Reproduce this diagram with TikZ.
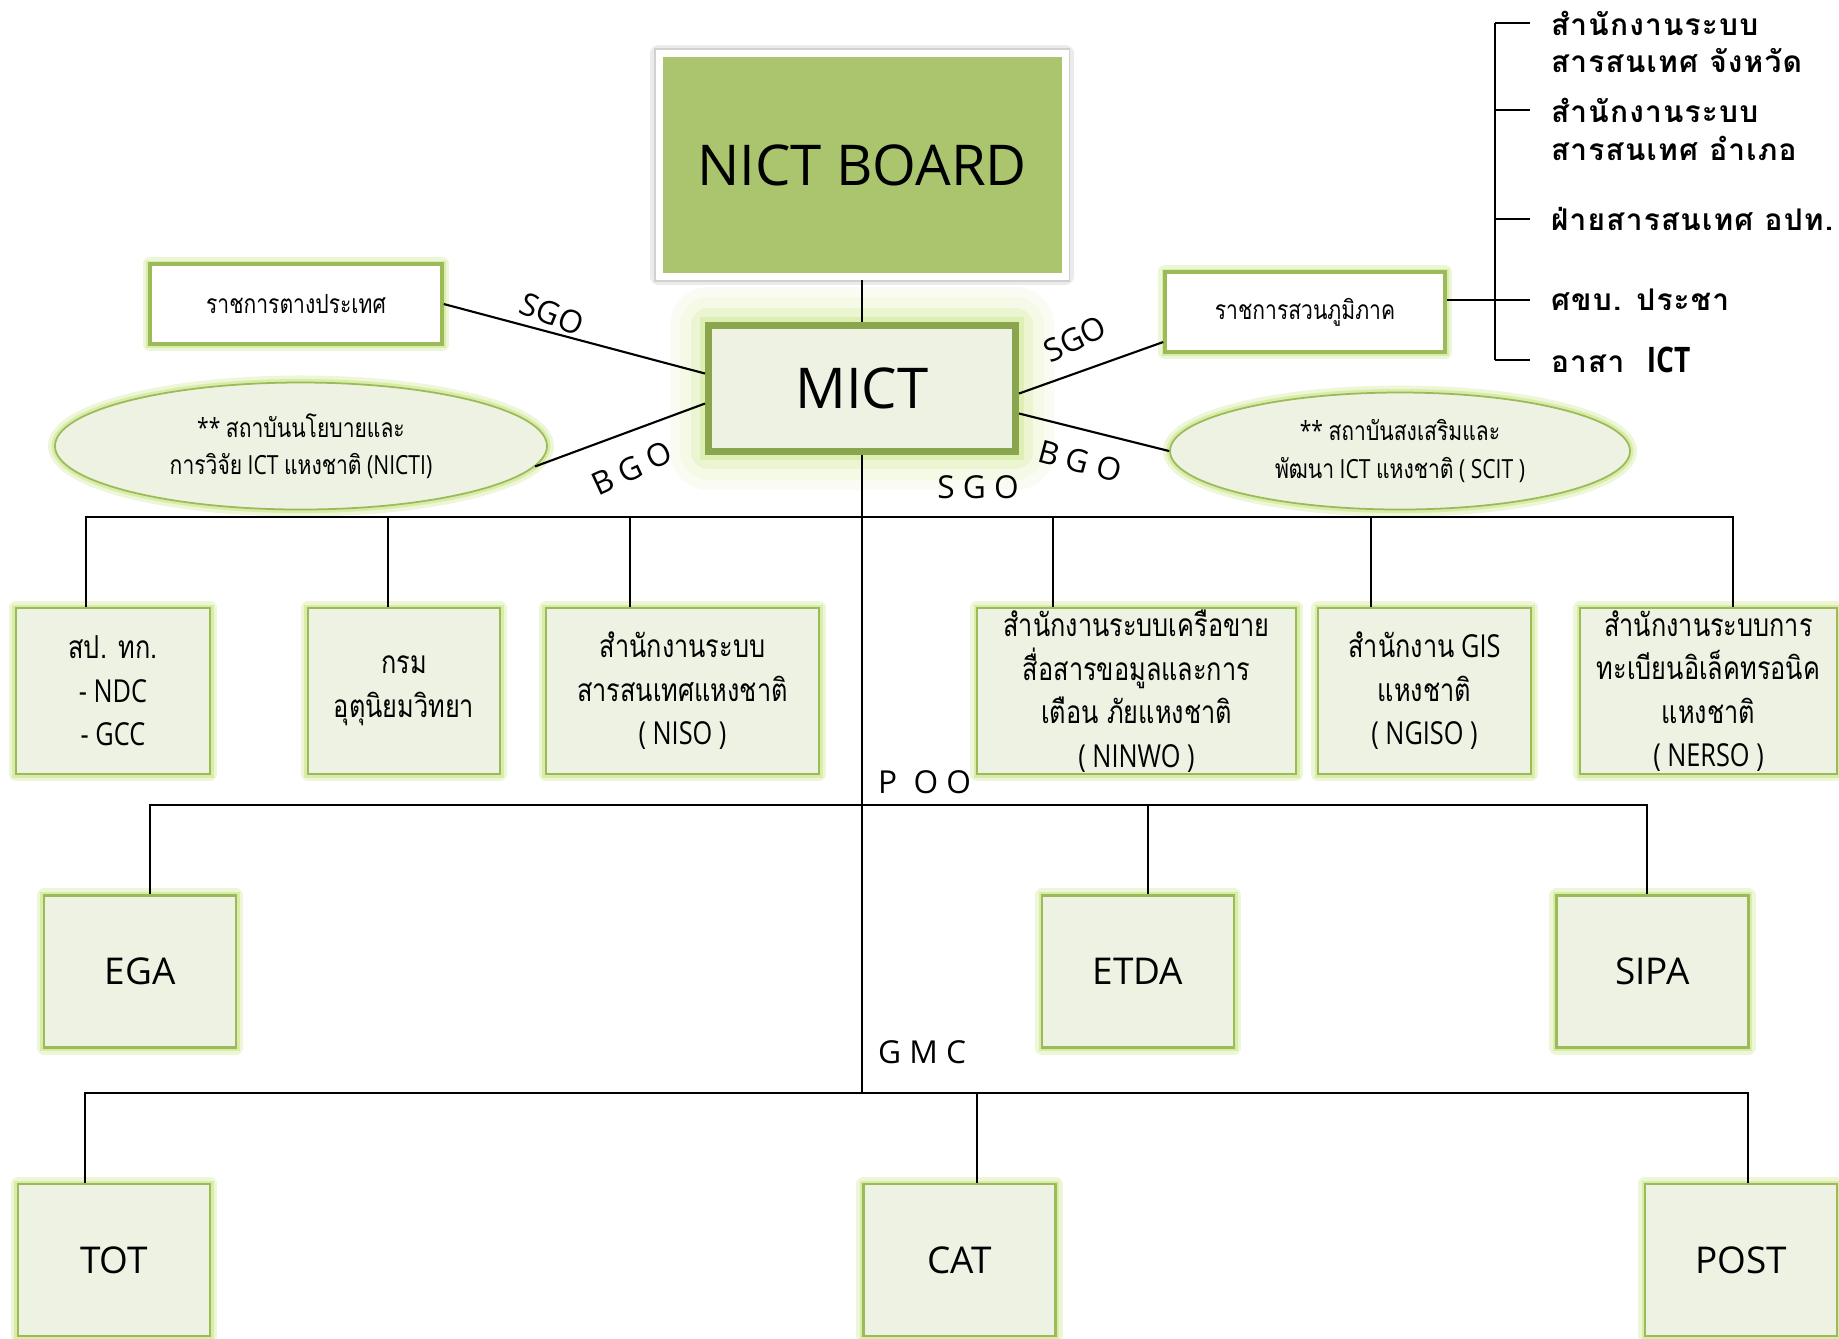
\documentclass[tikz,border=0pt]{standalone}
\usepackage{fontspec}
\setmainfont{Open Sans}
\newfontfamily\narrowsf[FakeStretch=0.8]{Open Sans}
\newfontfamily\thnarrow[Script=Thai,FakeStretch=0.8]{Loma}
\newfontfamily\thspaced[Script=Thai,LetterSpace=4]{Loma}
\usetikzlibrary{shapes.geometric, positioning}
\definecolor{boxfill}{RGB}{238,242,227}
\definecolor{boxedge}{RGB}{155,187,89}
\definecolor{mictedge}{RGB}{137,165,78}
\definecolor{boardfill}{RGB}{171,196,110}
\definecolor{glowc}{RGB}{205,230,140}
\tikzstyle{glow} = [preaction={draw=glowc!35!white, line width=4pt, line join=round}, preaction={draw=glowc!75!white, line width=2pt}]
\tikzstyle{bigglow} = [preaction={draw=glowc!10!white, line width=22pt, line join=round}, preaction={draw=glowc!22!white, line width=16pt, line join=round}, preaction={draw=glowc!40!white, line width=10pt, line join=round}, preaction={draw=glowc!65!white, line width=5pt}]
\tikzstyle{board} = [rectangle, fill=boardfill, draw=white, line width=0.07cm, minimum width=4.06cm, minimum height=2.23cm, preaction={draw=black!8, line width=0.07cm+3pt, line join=round}, preaction={draw=black!18, line width=0.07cm+1pt}, font=\fontsize{16}{19}\selectfont]
\tikzstyle{mict} = [rectangle, fill=boxfill, draw=mictedge, line width=0.07cm, minimum width=3.07cm, minimum height=1.26cm, bigglow, font=\fontsize{16}{19}\selectfont]
\tikzstyle{office} = [rectangle, fill=boxfill, draw=boxedge, line width=0.6pt, glow, align=center, inner sep=0pt, minimum height=1.66cm, font=\narrowsf\fontsize{9}{12.4}\selectfont]
\tikzstyle{unit} = [rectangle, fill=boxfill, draw=boxedge, line width=0.6pt, glow, minimum width=1.92cm, minimum height=1.52cm, font=\fontsize{10.5}{12}\selectfont]
\tikzstyle{whitebox} = [rectangle, fill=white, draw=boxedge, line width=1pt, glow, minimum height=0.80cm, font=\narrowsf\fontsize{7.5}{10}\selectfont]
\tikzstyle{oval} = [ellipse, fill=boxfill, draw=boxedge, line width=0.5pt, glow, align=center, inner sep=0pt, font=\narrowsf\fontsize{7.5}{10.7}\selectfont]
\tikzstyle{tag} = [inner sep=0pt, font=\fontsize{9}{11}\selectfont]
\tikzstyle{brtext} = [anchor=west, inner xsep=0.2cm, inner ysep=0pt, font=\thspaced\bfseries\fontsize{8.5}{10}\selectfont]
\newcommand{\thaitxt}[1]{{\thnarrow #1}}

\begin{document}
\begin{tikzpicture}[>=latex, line width=0.6pt, node distance=2cm]
  \useasboundingbox (0,0) rectangle (18.39,-13.38);
  % top of the chart
  \node[board] (board) at (8.62,-1.65) {NICT BOARD};
  \node[mict] (mict) at (8.62,-3.885) {MICT};
  \node[whitebox, minimum width=2.92cm] (fa) at (2.96,-3.04) {\thaitxt{ราชการตางประเทศ}};
  \node[whitebox, minimum width=2.80cm] (sr) at (13.05,-3.12) {\thaitxt{ราชการสวนภูมิภาค}};
  \node[oval, minimum width=4.92cm, minimum height=1.27cm] (nicti) at (3.01,-4.46) {** \thaitxt{สถาบันนโยบายและ}\\\thaitxt{การวิจัย} ICT \thaitxt{แหงชาติ} (NICTI)};
  \node[oval, minimum width=4.60cm, minimum height=1.17cm] (scit) at (14.00,-4.51) {** \thaitxt{สถาบันสงเสริมและ}\\\thaitxt{พัฒนา} ICT \thaitxt{แหงชาติ} ( SCIT )};

  % regional list
  \node[brtext] (p1) at (15.30,-0.23) {สำนักงานระบบ};
  \node[brtext] (p1b) at (15.30,-0.61) {สารสนเทศ จังหวัด};
  \node[brtext] (p2) at (15.30,-1.10) {สำนักงานระบบ};
  \node[brtext] (p2b) at (15.30,-1.48) {สารสนเทศ อำเภอ};
  \node[brtext] (p3) at (15.30,-2.19) {ฝ่ายสารสนเทศ อปท.};
  \node[brtext] (p4) at (15.30,-3.00) {ศขบ. ประชา};
  \node[brtext] (p5) at (15.30,-3.60) {อาสา \ {\narrowsf\fontsize{10}{12}\selectfont ICT}};
  \coordinate (brace) at (14.95,0);

  % row of offices
  \node[office, minimum width=1.94cm] (nd1) at (1.13,-6.91) {\thaitxt{สป. ทก.}\\- NDC\\- GCC};
  \node[office, minimum width=1.92cm, right of=nd1, node distance=2.91cm] (nd2) {\thaitxt{กรม}\\\thaitxt{อุตุนิยมวิทยา}};
  \node[office, minimum width=2.73cm, right of=nd2, node distance=2.785cm] (nd3) {\thaitxt{สำนักงานระบบ}\\\thaitxt{สารสนเทศแหงชาติ}\\( NISO )};
  \node[office, minimum width=3.19cm, right of=nd3, node distance=4.54cm] (nd4) {\thaitxt{สำนักงานระบบเครือขาย}\\\thaitxt{สื่อสารขอมูลและการ}\\\thaitxt{เตือน ภัยแหงชาติ}\\( NINWO )};
  \node[office, minimum width=2.13cm, right of=nd4, node distance=2.88cm] (nd5) {\thaitxt{สำนักงาน} GIS\\\thaitxt{แหงชาติ}\\( NGISO )};
  \node[office, minimum width=2.57cm, right of=nd5, node distance=2.84cm] (nd6) {\thaitxt{สำนักงานระบบการ}\\\thaitxt{ทะเบียนอิเล็คทรอนิค}\\\thaitxt{แหงชาติ}\\( NERSO )};

  % public organisations and state enterprises
  \node[unit] (ega) at (1.40,-9.715) {EGA};
  \node[unit, right of=ega, node distance=9.98cm] (etda) {ETDA};
  \node[unit, right of=etda, node distance=5.145cm] (sipa) {SIPA};
  \node[unit] (tot) at (1.14,-12.60) {TOT};
  \node[unit, right of=tot, node distance=8.455cm] (cat) {CAT};
  \node[unit, right of=cat, node distance=7.815cm] (post) {POST};

  \coordinate (bar) at (8.62,-5.17);
  \coordinate (poo) at (8.62,-8.05);
  \coordinate (gmc) at (8.62,-10.93);

  \draw (board) -- (mict);
  \draw (mict) -- (gmc);
  \draw (fa.east) -- ([yshift=1.5mm]mict.west);
  \draw (nicti.-5) -- ([yshift=-1.5mm]mict.west);
  \draw ([yshift=-0.5mm]mict.east) -- ([yshift=-3mm]sr.west);
  \draw ([yshift=-2.5mm]mict.east) -- (scit.west);
  \foreach \n/\s/\b in {nd1/-0.27/bar, nd2/-0.16/bar, nd3/-0.525/bar, nd4/-0.835/bar, nd5/-0.535/bar, nd6/0.245/bar,
      ega/0.10/poo, etda/0.10/poo, sipa/-0.055/poo, tot/-0.29/gmc, cat/0.175/gmc, post/0.07/gmc}
    \draw ([xshift=\s cm]\n.north) |- (\b);

  \draw (p1.west -| brace) -- (p5.west -| brace);
  \foreach \p in {p1, p2, p3, p4, p5}
    \draw (\p.west) -- (\p.west -| brace);
  \draw (sr.east |- p4.west) -- (p4.west);

  % relation labels
  \node[tag, rotate=-22] (sgo1) at (5.52,-3.14) {SGO};
  \node[tag, rotate=25] (bgo1) at (6.32,-4.68) {B G O};
  \node[tag, rotate=25] (sgo2) at (10.75,-3.39) {SGO};
  \node[tag, rotate=-15] (bgo2) at (10.80,-4.61) {B G O};
  \node[tag] (sgo3) at (9.78,-4.87) {S G O};
  \node[tag, anchor=west] (poolabel) at (8.77,-7.82) {P~~O O};
  \node[tag, anchor=west] (gmclabel) at (8.77,-10.52) {G M C};
\end{tikzpicture}
\end{document}
